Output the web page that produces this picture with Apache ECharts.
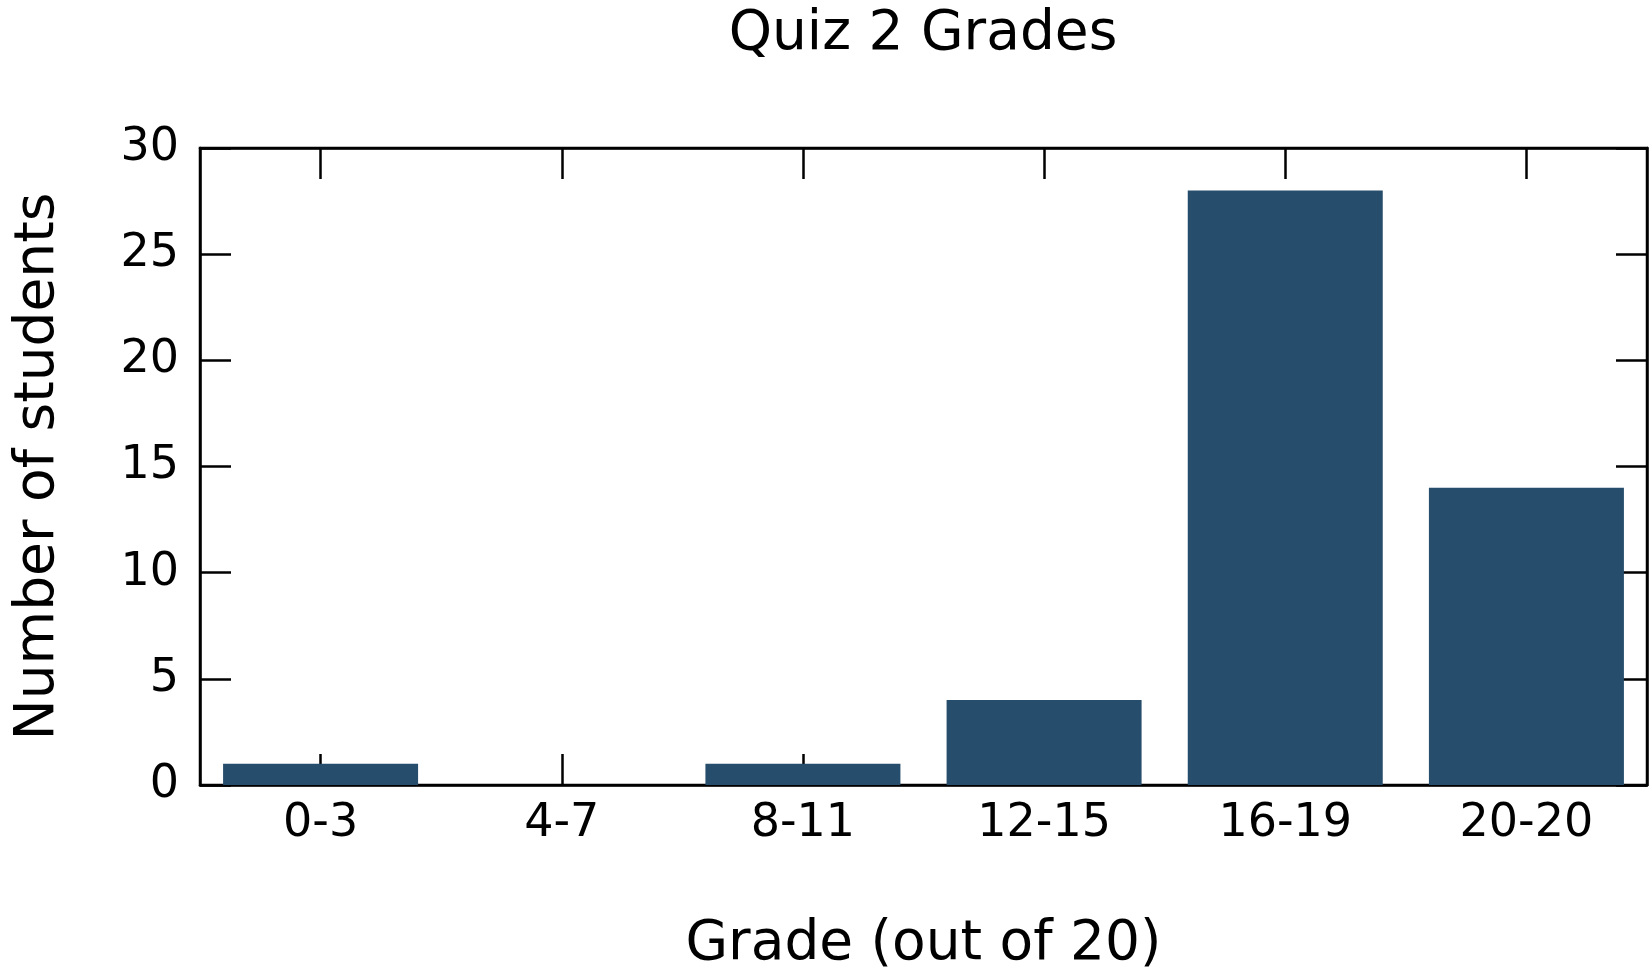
<!DOCTYPE html>
<html>
<head>
<meta charset="utf-8">
<script src="https://cdn.jsdelivr.net/npm/echarts@6/dist/echarts.min.js"></script>
<style>
  html, body { margin: 0; padding: 0; background: #fff; }
  #chart { width: 1649px; height: 970px; }
</style>
</head>
<body>
<div id="chart"></div>
<script>
// grade buckets and counts
var gradeBins = ['0-3', '4-7', '8-11', '12-15', '16-19', '20-20'];
var studentCounts = [1, 0, 1, 4, 28, 14];
var yTicks = { min: 0, max: 30, step: 5 };

var font = 'DejaVu Sans';
var ink = '#000';
var lw = 2.5;
var myChart = echarts.init(document.getElementById('chart'));

function ticks(extra) {
    return Object.assign({ show: true, inside: true, length: 31, lineStyle: { color: ink, width: lw } }, extra || {});
}
function line() {
    return { show: true, onZero: false, lineStyle: { color: ink, width: lw } };
}

option = {
    animation: false,
    title: {
        text: 'Quiz 2 Grades',
        left: 918, textAlign: 'center',
        top: 2,
        textStyle: { fontFamily: font, fontSize: 55, fontWeight: 'normal', color: ink }
    },
    grid: {
        left: 200, right: 2, top: 148, bottom: 185,
        outerBoundsMode: 'none',
        show: true, borderColor: ink, borderWidth: lw, backgroundColor: 'transparent'
    },
    xAxis: [{
        type: 'category',
        data: gradeBins,
        position: 'bottom',
        name: 'Grade (out of 20)',
        nameLocation: 'middle',
        nameGap: 132,
        nameTextStyle: { fontFamily: font, fontSize: 55, color: ink },
        axisLine: line(),
        axisTick: ticks({ alignWithLabel: true }),
        axisLabel: { fontFamily: font, fontSize: 46, color: ink, margin: 16 },
        splitLine: { show: false }
    }, {
        type: 'category',
        data: gradeBins,
        position: 'top',
        axisLine: line(),
        axisTick: ticks({ alignWithLabel: true }),
        axisLabel: { show: false },
        splitLine: { show: false }
    }],
    yAxis: [{
        type: 'value',
        min: yTicks.min, max: yTicks.max, interval: yTicks.step,
        position: 'left',
        name: 'Number of students',
        nameLocation: 'middle',
        nameGap: 134,
        nameTextStyle: { fontFamily: font, fontSize: 55, color: ink },
        axisLine: line(),
        axisTick: ticks(),
        axisLabel: { fontFamily: font, fontSize: 46, color: ink, margin: 21 },
        splitLine: { show: false }
    }, {
        type: 'value',
        min: yTicks.min, max: yTicks.max, interval: yTicks.step,
        position: 'right',
        axisLine: line(),
        axisTick: ticks(),
        axisLabel: { show: false },
        splitLine: { show: false }
    }],
    series: [{
        name: 'Number of students',
        type: 'bar',
        data: studentCounts,
        barWidth: 195,
        itemStyle: { color: '#264d6b' }
    }]
};
myChart.setOption(option);
</script>
</body>
</html>
